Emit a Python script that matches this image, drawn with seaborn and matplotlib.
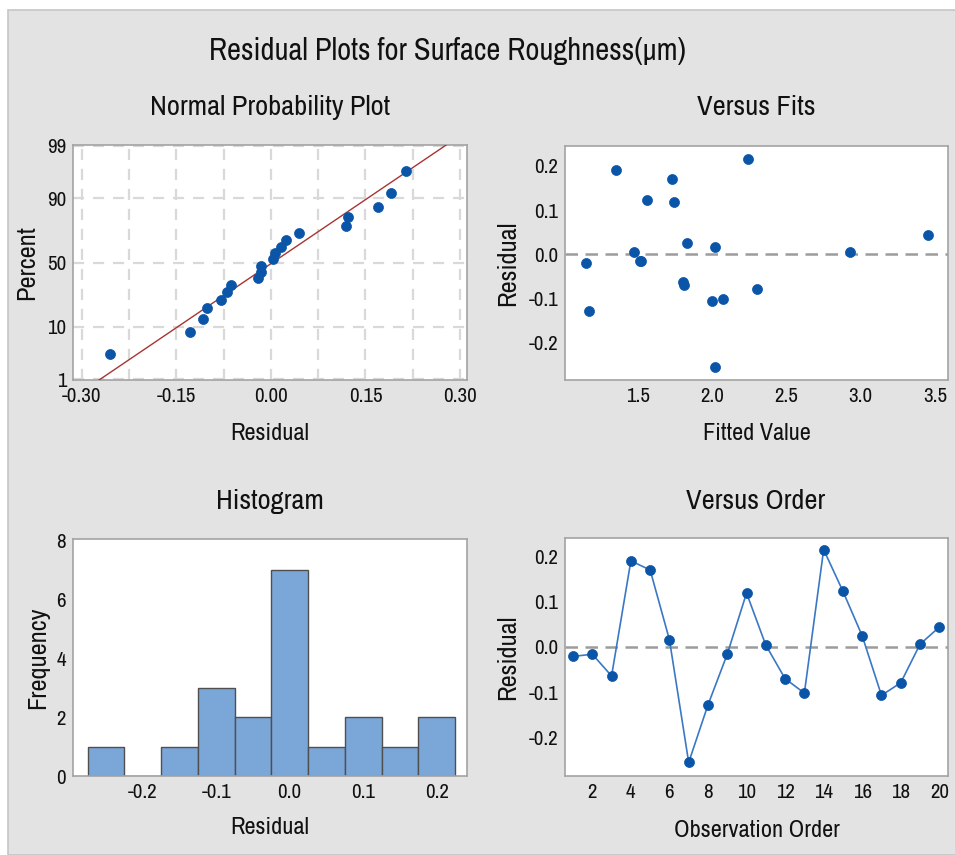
import numpy as np
import pandas as pd
import matplotlib
matplotlib.use("Agg")
import matplotlib.pyplot as plt
import seaborn as sns
from matplotlib.patches import Rectangle
from matplotlib.ticker import FixedLocator, NullFormatter
from statistics import NormalDist

# ---------------- data ----------------
observation = list(range(1, 21))
residuals = [-0.021, -0.016, -0.064, 0.190, 0.170, 0.016, -0.255, -0.128, -0.016, 0.119,
             0.004, -0.070, -0.102, 0.215, 0.123, 0.0245, -0.107, -0.079, 0.006, 0.044]
fitted = [1.15, 1.51, 1.80, 1.35, 1.73, 2.02, 2.02, 1.17, 1.52, 1.74,
          1.47, 1.81, 2.07, 2.24, 1.56, 1.83, 2.00, 2.30, 2.93, 3.45]
pct_ticks = [1, 10, 50, 90, 99]
npp_xticks = [-0.30, -0.15, 0.00, 0.15, 0.30]
fit_xticks = [1.5, 2.0, 2.5, 3.0, 3.5]
res_yticks = [-0.2, -0.1, 0.0, 0.1, 0.2]
hist_xticks = [-0.2, -0.1, 0.0, 0.1, 0.2]
hist_yticks = [0, 2, 4, 6, 8]
order_xticks = [2, 4, 6, 8, 10, 12, 14, 16, 18, 20]

df = pd.DataFrame({"Observation": observation, "Residual": residuals, "Fitted": fitted})

# ---------------- style ----------------
sns.set_style("white")
plt.rcParams["font.family"] = ["Archivo Narrow", "DejaVu Sans"]

W, H = 955, 855
fig = plt.figure(figsize=(W / 100, H / 100), dpi=100, facecolor="white")
fig.patches.append(Rectangle((8 / W, 0), 1, 1 - 10 / H, transform=fig.transFigure,
                             facecolor="#e3e3e3", edgecolor="#c6c6c6", lw=1.2, zorder=-10))

def axes_px(x0, x1, y0, y1):
    return fig.add_axes([x0 / W, 1 - y1 / H, (x1 - x0) / W, (y1 - y0) / H])

ax1 = axes_px(73, 467, 145, 380)
ax2 = axes_px(565, 948, 146, 380)
ax3 = axes_px(73, 467, 539, 776)
ax4 = axes_px(565, 948, 538, 776)

POINT = "#0a55a8"
SPINE = "#a3a3a3"
TICKFS = 15
XLABELFS = 17.5
YLABELFS = 19

def style(ax):
    ax.set_facecolor("white")
    for s in ax.spines.values():
        s.set_color(SPINE)
        s.set_linewidth(1.2)
    ax.tick_params(axis="both", which="major", length=3, width=1, color=SPINE,
                   labelsize=TICKFS, labelcolor="#111111", pad=2)

def labels(ax, xl, yl, xy, yx):
    ax.set_xlabel(xl, fontsize=XLABELFS, color="#111111")
    ax.set_ylabel(yl, fontsize=YLABELFS, color="#111111")
    ax.xaxis.set_label_coords(0.5, xy)
    ax.yaxis.set_label_coords(yx, 0.5)
    ax.xaxis.label.set_va("center")
    ax.yaxis.label.set_va("center")

# ---------------- Normal probability plot ----------------
nd = NormalDist()
_ppf = np.vectorize(lambda p: nd.inv_cdf(min(max(p / 100.0, 1e-9), 1 - 1e-9)), otypes=[float])
_cdf = np.vectorize(lambda z: 100.0 * nd.cdf(z), otypes=[float])

n = len(residuals)
sorted_res = np.sort(np.array(residuals))
percent = (np.arange(1, n + 1) - 0.3) / (n + 0.4) * 100
mu = float(np.mean(residuals))
sd = float(np.std(residuals, ddof=1))
line_pct = np.linspace(0.5, 99.5, 400)
line_x = mu + sd * _ppf(line_pct)

ax1.set_yscale("function", functions=(_ppf, _cdf))
sns.lineplot(x=line_x, y=line_pct, ax=ax1, color="#a83434", lw=1.0, sort=False, zorder=3)
sns.scatterplot(x=sorted_res, y=percent, ax=ax1, color=POINT, s=52, edgecolor=POINT,
                linewidth=0.5, zorder=4)
ax1.set_xlim(-0.3138, 0.311)
ax1.set_ylim(0.965, 99.04)
ax1.yaxis.set_major_locator(FixedLocator(pct_ticks))
ax1.yaxis.set_minor_locator(FixedLocator([]))
ax1.set_yticklabels([str(t) for t in pct_ticks])
ax1.xaxis.set_major_locator(FixedLocator(npp_xticks))
ax1.set_xticklabels([f"{t:.2f}" for t in npp_xticks])
ax1.xaxis.set_minor_locator(FixedLocator([-0.225, -0.075, 0.075, 0.225]))
ax1.xaxis.set_minor_formatter(NullFormatter())
style(ax1)
ax1.tick_params(axis="x", which="minor", length=0)
ax1.grid(True, axis="x", which="both", color="#d9d9d9", linestyle=(0, (5, 4)), lw=1.6)
ax1.grid(True, axis="y", which="major", color="#d9d9d9", linestyle=(0, (5, 4)), lw=1.6)
ax1.set_axisbelow(True)
labels(ax1, "Residual", "Percent", -0.226, -0.117)

# ---------------- Versus Fits ----------------
sns.scatterplot(data=df, x="Fitted", y="Residual", ax=ax2, color=POINT, s=52,
                edgecolor=POINT, linewidth=0.5, zorder=4)
ax2.axhline(0, color="#9c9c9c", lw=1.8, ls=(0, (5, 3)), zorder=2)
ax2.set_xlim(1.006, 3.588)
ax2.set_ylim(-0.285, 0.245)
ax2.set_xticks(fit_xticks)
ax2.set_xticklabels([f"{t:.1f}" for t in fit_xticks])
ax2.set_yticks(res_yticks)
ax2.set_yticklabels([f"{t:.1f}" for t in res_yticks])
style(ax2)
labels(ax2, "Fitted Value", "Residual", -0.2265, -0.149)

# ---------------- Histogram ----------------
edges = np.arange(-0.275, 0.2251, 0.05)
sns.histplot(x=residuals, bins=edges, ax=ax3, color="#7ba6d8", edgecolor="#4f4f4f",
             linewidth=1.0, alpha=1.0)
ax3.set_xlim(-0.2948, 0.2413)
ax3.set_ylim(0, 8.05)
ax3.set_xticks(hist_xticks)
ax3.set_xticklabels([f"{t:.1f}" for t in hist_xticks])
ax3.set_yticks(hist_yticks)
ax3.set_yticklabels([str(t) for t in hist_yticks])
style(ax3)
labels(ax3, "Residual", "Frequency", -0.219, -0.091)

# ---------------- Versus Order ----------------
sns.lineplot(data=df, x="Observation", y="Residual", ax=ax4, color="#3a78c4", lw=1.2, zorder=3)
sns.scatterplot(data=df, x="Observation", y="Residual", ax=ax4, color=POINT, s=52,
                edgecolor=POINT, linewidth=0.5, zorder=4)
ax4.axhline(0, color="#9c9c9c", lw=1.8, ls=(0, (5, 3)), zorder=2)
ax4.set_xlim(0.584, 20.45)
ax4.set_ylim(-0.285, 0.2406)
ax4.set_xticks(order_xticks)
ax4.set_xticklabels([str(t) for t in order_xticks])
ax4.set_yticks(res_yticks)
ax4.set_yticklabels([f"{t:.1f}" for t in res_yticks])
style(ax4)
labels(ax4, "Observation Order", "Residual", -0.227, -0.149)

# ---------------- titles ----------------
fig.text(447.5 / W, 1 - 60 / H, "Residual Plots for Surface Roughness(μm)", ha="center",
         va="baseline", fontsize=22, color="#111111")
for x, y, t in [(270, 115, "Normal Probability Plot"), (756, 115, "Versus Fits"),
                (270, 509, "Histogram"), (756, 509, "Versus Order")]:
    fig.text(x / W, 1 - y / H, t, ha="center", va="baseline", fontsize=20.5, color="#111111")

fig.savefig("out.png", dpi=100, facecolor="white")
